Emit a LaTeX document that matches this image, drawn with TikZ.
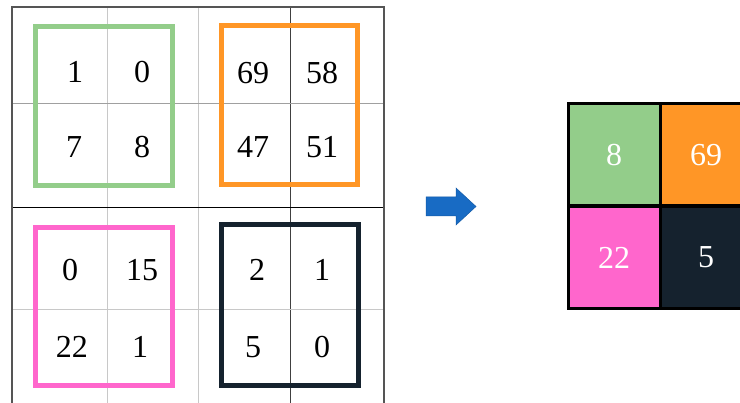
\documentclass[tikz,border=0pt]{standalone}
\usepackage{fontspec}
\setmainfont{Liberation Serif}
\definecolor{cgreen}{RGB}{147,205,138}
\definecolor{corange}{RGB}{255,150,38}
\definecolor{cpink}{RGB}{255,102,204}
\definecolor{cdark}{RGB}{21,34,46}
\definecolor{cblue}{RGB}{24,107,196}
\definecolor{lgray}{RGB}{200,200,200}
\definecolor{mgray}{RGB}{85,85,85}
\tikzset{
  num/.style={font=\fontsize{32}{36}\selectfont, inner sep=0pt, anchor=center},
  wnum/.style={num, text=white},
  pool/.style={line width=5pt},
  cellbox/.style={draw=black, line width=3pt, minimum width=92pt, minimum height=102pt, inner sep=0pt}
}
\begin{document}
\begin{tikzpicture}[x=1pt,y=-1pt]
\useasboundingbox (0,0) rectangle (740,403);
% grid
\draw[lgray, line width=0.8pt] (107,7) -- (107,403);
\draw[lgray, line width=0.8pt] (198,7) -- (198,403);
\draw[black!75, line width=0.8pt] (290,7) -- (290,403);
\draw[lgray!80!black, line width=0.8pt] (12,103) -- (384,103);
\draw[black, line width=0.9pt] (12,207) -- (384,207);
\draw[lgray, line width=0.8pt] (12,309) -- (384,309);
\draw[mgray, line width=1.6pt] (12,403) -- (12,7) -- (384,7) -- (384,403);
% pooling windows
\draw[pool, cgreen] (35.5,26.5) rectangle (172.5,185.5);
\draw[pool, corange] (221.5,25.5) rectangle (357.5,184.5);
\draw[pool, cpink] (35.5,227.5) rectangle (172.5,385.5);
\draw[pool, cdark] (221.5,224.5) rectangle (358.5,385.5);
% numbers
\node[num] (a11) at (75,72) {1};
\node[num] (a12) at (142,72) {0};
\node[num] (a21) at (74,147) {7};
\node[num] (a22) at (142,147) {8};
\node[num] (b11) at (253,73) {69};
\node[num] (b12) at (322,73) {58};
\node[num] (b21) at (253,147) {47};
\node[num] (b22) at (322,147) {51};
\node[num] (c11) at (70,270) {0};
\node[num] (c12) at (142,270) {15};
\node[num] (c21) at (72,347) {22};
\node[num] (c22) at (140,347) {1};
\node[num] (d11) at (257,270) {2};
\node[num] (d12) at (322,270) {1};
\node[num] (d21) at (253,347) {5};
\node[num] (d22) at (322,347) {0};
% arrow
\filldraw[fill=cblue, draw=cblue!85!black, line width=0.5pt]
  (426,197) -- (456,197) -- (456,188) -- (476,206.5) -- (456,225) -- (456,216) -- (426,216) -- cycle;
% output
\node[cellbox, fill=cgreen] (o11) at (614,155) {};
\node[cellbox, fill=corange] (o12) at (706,155) {};
\node[cellbox, fill=cpink] (o21) at (614,257.5) {};
\node[cellbox, fill=cdark] (o22) at (706,257.5) {};
\node[wnum] at (o11) {8};
\node[wnum] at (o12) {69};
\node[wnum] at (o21) {22};
\node[wnum] at (o22) {5};
\end{tikzpicture}
\end{document}
